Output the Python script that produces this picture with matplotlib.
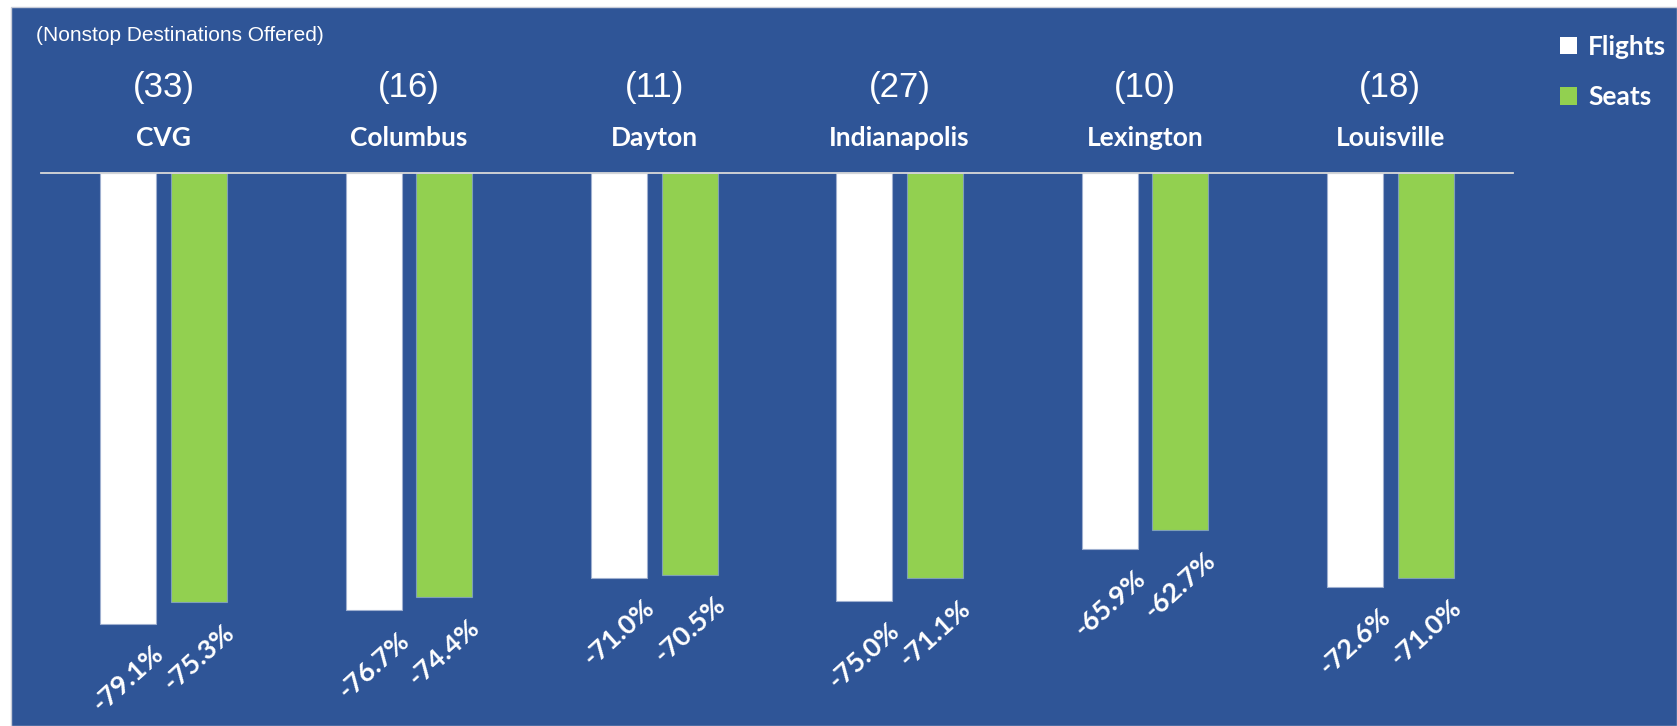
import matplotlib
matplotlib.use("Agg")
import matplotlib.pyplot as plt
import matplotlib.transforms as mtransforms
from matplotlib.patches import Patch, Rectangle
import numpy as np

cities = ["CVG", "Columbus", "Dayton", "Indianapolis", "Lexington", "Louisville"]
destinations = [33, 16, 11, 27, 10, 18]
flights_change = [-79.1, -76.7, -71.0, -75.0, -65.9, -72.6]
seats_change = [-75.3, -74.4, -70.5, -71.1, -62.7, -71.0]

BLUE = "#2F5597"
GREEN = "#92D050"
W, H = 1677, 726

fig = plt.figure(figsize=(W / 100, H / 100), dpi=100, facecolor="white")
# blue slide panel with a thin white margin top/left
fig.patches.append(Rectangle((11 / W, 0), 1 - 11 / W, 1 - 7 / H, transform=fig.transFigure,
                             facecolor=BLUE, edgecolor="#C8CCD8", lw=1, zorder=-5))

ax = fig.add_axes([41 / W, 0, (1513 - 41) / W, 1 - 173 / H])
ax.set_facecolor("none")
ax.set_xlim(-0.5, len(cities) - 0.5)
ax.set_ylim(-553 / 5.7, 0)
for s in ax.spines.values():
    s.set_visible(False)
ax.set_xticks([])
ax.set_yticks([])

x = np.arange(len(cities))
width = 0.228
off = 0.144
ax.bar(x - off, flights_change, width, color="white", edgecolor="#9FB0D0", lw=0.8, zorder=2)
ax.bar(x + off, seats_change, width, color=GREEN, edgecolor="#7FA0B8", lw=0.8, zorder=2)
ax.axhline(0, color="#D9D9D9", lw=1.3, zorder=3, clip_on=False)

bold = dict(family="Lato", weight="bold", color="white")
for xs, vals in ((x - off, flights_change), (x + off, seats_change)):
    for xi, v in zip(xs, vals):
        ax.annotate(f"{v:.1f}%", xy=(xi, v), xytext=(0, -55), textcoords="offset pixels",
                    rotation=42, rotation_mode="anchor", ha="center", va="center",
                    fontsize=19.5, **bold)

tr = mtransforms.blended_transform_factory(ax.transData, fig.transFigure)
for i, (c, n) in enumerate(zip(cities, destinations)):
    ax.text(i, 1 - 146 / H, c, transform=tr, ha="center", va="baseline", fontsize=19, **bold)
    ax.text(i, 1 - 97 / H, f"({n})", transform=tr, ha="center", va="baseline",
            fontsize=25, family="Liberation Sans", color="white")

fig.text(36 / W, 1 - 41 / H, "(Nonstop Destinations Offered)", ha="left", va="baseline",
         fontsize=15, family="Liberation Sans", color="white")

handles = [Patch(facecolor="white"), Patch(facecolor=GREEN)]
leg = fig.legend(handles, ["Flights", "Seats"], loc="upper left",
                 bbox_to_anchor=(1536 / W, 1 - 11 / H), frameon=False,
                 handlelength=0.67, handleheight=0.67, handletextpad=0.4, labelspacing=1.0,
                 prop=dict(family="Lato", weight="bold", size=19))
for t in leg.get_texts():
    t.set_color("white")

fig.savefig("out.png", dpi=100, facecolor=fig.get_facecolor())
